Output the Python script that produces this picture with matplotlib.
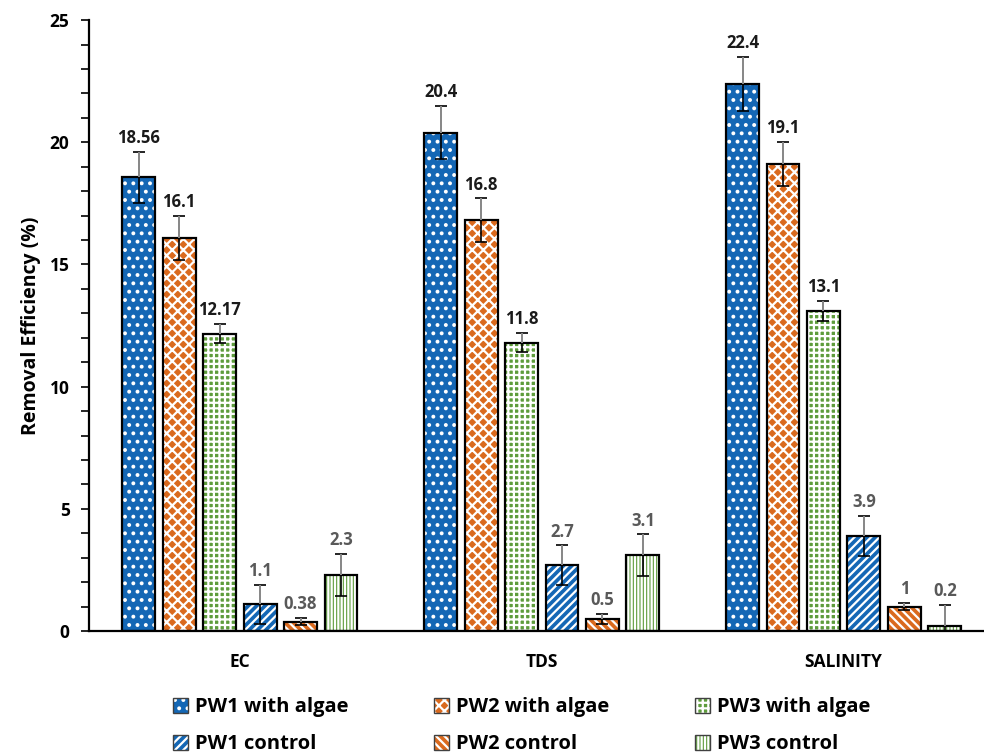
import numpy as np
import matplotlib
matplotlib.use('Agg')
import matplotlib.pyplot as plt
from matplotlib.patches import Patch
from matplotlib.ticker import MultipleLocator

plt.rcParams['font.family'] = ['Open Sans', 'DejaVu Sans']
plt.rcParams['font.weight'] = 'bold'
plt.rcParams['hatch.linewidth'] = 1.6

# Removal efficiency per parameter and sample
categories = ['EC', 'TDS', 'SALINITY']
series = ['PW1 with algae', 'PW2 with algae', 'PW3 with algae',
          'PW1 control', 'PW2 control', 'PW3 control']
pw1_algae = [18.56, 20.4, 22.4]
pw2_algae = [16.1, 16.8, 19.1]
pw3_algae = [12.17, 11.8, 13.1]
pw1_ctrl = [1.1, 2.7, 3.9]
pw2_ctrl = [0.38, 0.5, 1]
pw3_ctrl = [2.3, 3.1, 0.2]
# standard deviations
pw1_algae_err = [1.05, 1.1, 1.1]
pw2_algae_err = [0.9, 0.9, 0.9]
pw3_algae_err = [0.4, 0.4, 0.4]
pw1_ctrl_err = [0.8, 0.8, 0.82]
pw2_ctrl_err = [0.15, 0.2, 0.15]
pw3_ctrl_err = [0.85, 0.85, 0.85]

values = [pw1_algae, pw2_algae, pw3_algae, pw1_ctrl, pw2_ctrl, pw3_ctrl]
errors = [pw1_algae_err, pw2_algae_err, pw3_algae_err,
          pw1_ctrl_err, pw2_ctrl_err, pw3_ctrl_err]

blue, orange, green = '#1467B5', '#DA6A1E', '#5E9C3C'
faces = [blue, orange, green, blue, orange, green]
hatches = ['..', 'xxx', '+++', '////', '\\\\\\\\', '|||||']
label_colors = ['#1a1a1a'] * 3 + ['#595959'] * 3

fig = plt.figure(figsize=(9.84, 7.53), dpi=100)
ax = fig.add_axes([0.0904, 0.162, 0.9096, 0.8113])

x = np.arange(len(categories))
step = 0.134
width = 0.109

handles = []
for i in range(len(series)):
    xs = x + (i - 2.5) * step
    ax.bar(xs, values[i], width, color=faces[i], edgecolor='white',
           hatch=hatches[i], linewidth=0, zorder=2)
    ax.bar(xs, values[i], width, fill=False, edgecolor='black',
           linewidth=1.6, zorder=3)
    ax.errorbar(xs, values[i], yerr=errors[i], fmt='none', ecolor='black',
                elinewidth=1.2, capsize=4, capthick=1.2, zorder=4)
    ax.vlines(xs, values[i], np.array(values[i]) + np.array(errors[i]),
              color='#8c8c8c', linewidth=1.4, zorder=5)
    for xi, v, e in zip(xs, values[i], errors[i]):
        ax.text(xi, v + e + 0.2, f'{v:g}', ha='center', va='bottom',
                fontsize=12, fontweight='bold', color=label_colors[i])
    handles.append((Patch(facecolor=faces[i], edgecolor='white',
                          hatch=hatches[i], linewidth=0),
                    Patch(fill=False, edgecolor='#404040', linewidth=1.0)))

ax.set_xlim(-0.5, 2.465)
ax.set_ylim(0, 25)
ax.set_xticks(x)
ax.set_xticklabels(categories, fontsize=12.5, fontweight='bold')
ax.tick_params(axis='x', length=0, pad=16)
ax.yaxis.set_major_locator(MultipleLocator(5))
ax.yaxis.set_minor_locator(MultipleLocator(1))
ax.tick_params(axis='y', which='both', direction='out', length=6, width=1.2,
               labelsize=12.5, pad=8)
for lbl in ax.get_yticklabels():
    lbl.set_fontweight('bold')
ax.set_ylabel('Removal Efficiency (%)', fontsize=14, fontweight='bold',
              labelpad=6)

for side in ['top', 'right']:
    ax.spines[side].set_visible(False)
for side in ['left', 'bottom']:
    ax.spines[side].set_linewidth(1.6)

# legend is filled column by column, so interleave algae / control
order = [0, 3, 1, 4, 2, 5]
leg = fig.legend([handles[k] for k in order], [series[k] for k in order],
                 ncol=3, loc='lower left', bbox_to_anchor=(0.157, -0.026),
                 frameon=False, handlelength=0.75,
                 handleheight=0.75, handletextpad=0.35, columnspacing=4.25,
                 labelspacing=0.85, prop={'weight': 'bold', 'size': 14.5})

fig.savefig('out.png', dpi=100)
